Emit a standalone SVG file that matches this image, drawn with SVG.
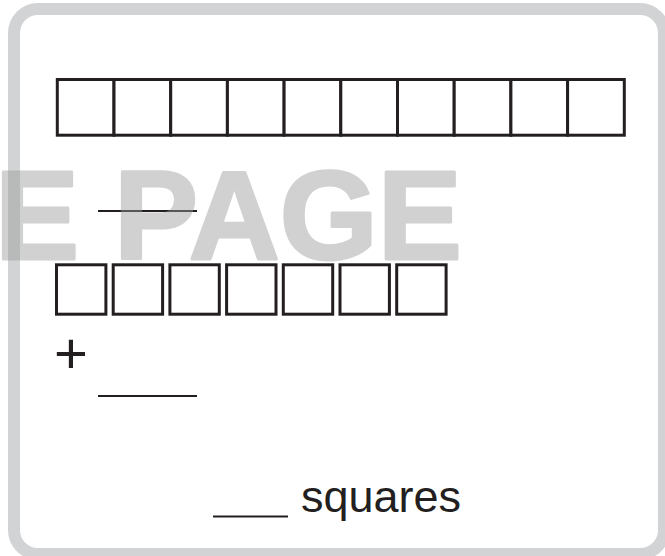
<svg xmlns="http://www.w3.org/2000/svg" width="665" height="556" viewBox="0 0 665 556">
<style>
.cell{fill:#fff;stroke:#231f20;stroke-width:3}
.blank{stroke:#231f20;stroke-width:2.2}
.txt{font-family:"Liberation Sans",Arial,sans-serif;fill:#231f20}
.wm{font-family:"Liberation Sans",Arial,sans-serif;font-weight:bold;font-size:126px;fill:#9a9a9a;stroke:#9a9a9a;stroke-width:3;stroke-linejoin:round}
</style>
<rect x="0" y="0" width="665" height="556" fill="#fff"/>
<g id="frame">
<rect x="14" y="9" width="650" height="545" rx="24" ry="24" fill="#fff" stroke="#d1d3d4" stroke-width="12"/>
</g>
<g id="row-ten">
<rect class="cell" x="57.3" y="79.5" width="56.7" height="55.7"/>
<rect class="cell" x="114" y="79.5" width="56.7" height="55.7"/>
<rect class="cell" x="170.7" y="79.5" width="56.7" height="55.7"/>
<rect class="cell" x="227.4" y="79.5" width="56.7" height="55.7"/>
<rect class="cell" x="284.1" y="79.5" width="56.7" height="55.7"/>
<rect class="cell" x="340.8" y="79.5" width="56.7" height="55.7"/>
<rect class="cell" x="397.5" y="79.5" width="56.7" height="55.7"/>
<rect class="cell" x="454.2" y="79.5" width="56.7" height="55.7"/>
<rect class="cell" x="510.9" y="79.5" width="56.7" height="55.7"/>
<rect class="cell" x="567.6" y="79.5" width="56.7" height="55.7"/>
</g>
<g id="blank-1">
<line class="blank" x1="98" y1="211" x2="197" y2="211"/>
</g>
<g id="row-seven">
<rect class="cell" x="56.5" y="264.8" width="49.4" height="49.4"/>
<rect class="cell" x="113.2" y="264.8" width="49.4" height="49.4"/>
<rect class="cell" x="169.9" y="264.8" width="49.4" height="49.4"/>
<rect class="cell" x="226.6" y="264.8" width="49.4" height="49.4"/>
<rect class="cell" x="283.3" y="264.8" width="49.4" height="49.4"/>
<rect class="cell" x="340" y="264.8" width="49.4" height="49.4"/>
<rect class="cell" x="396.7" y="264.8" width="49.4" height="49.4"/>
</g>
<g id="plus">
<text class="txt" x="54" y="373" font-size="58">+</text>
</g>
<g id="blank-2">
<line class="blank" x1="98" y1="396" x2="197" y2="396"/>
</g>
<g id="answer">
<line class="blank" x1="213" y1="516.5" x2="288" y2="516.5"/>
<text class="txt" x="301" y="512" font-size="45">squares</text>
</g>
<g id="watermark" opacity="0.45">
<text class="wm" x="-5" y="259">E PAGE</text>
</g>
<g id="connectors"/>
</svg>
